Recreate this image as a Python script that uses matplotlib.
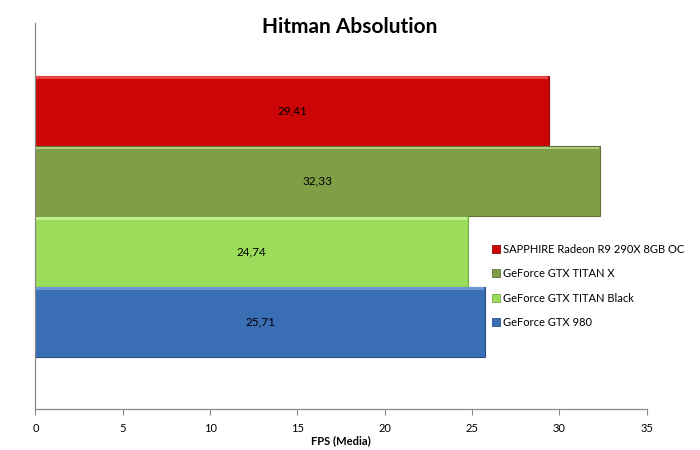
import matplotlib
matplotlib.use('Agg')
import matplotlib.pyplot as plt
from matplotlib.patches import Patch

plt.rcParams['font.family'] = ['Lato', 'DejaVu Sans']

# data, top to bottom
labels = ['SAPPHIRE Radeon R9 290X 8GB OC', 'GeForce GTX TITAN X',
          'GeForce GTX TITAN Black', 'GeForce GTX 980']
fps = [29.41, 32.33, 24.74, 25.71]
value_text = ['29,41', '32,33', '24,74', '25,71']
colors = ['#CC0606', '#809E46', '#9BDC5A', '#3A6EB5']
edge_colors = ['#8E0A0A', '#5E7533', '#74A842', '#294F84']
top_colors = ['#EC4444', '#B0CA80', '#C3EC94', '#6E98D2']
xticks = [0, 5, 10, 15, 20, 25, 30, 35]

fig = plt.figure(figsize=(7, 4.5), dpi=100)
ax = fig.add_axes([0.0507, 0.0911, 0.8733, 0.8578])

ypos = [3, 2, 1, 0]
for y, v, c, ec, tc, t in zip(ypos, fps, colors, edge_colors, top_colors, value_text):
    ax.barh(y, v, height=1.0, color=c, edgecolor=ec, linewidth=0.8, zorder=2)
    # light bevel along the top edge
    ax.barh(y + 0.475, v - 0.1, height=0.04, left=0.05, color=tc, linewidth=0, zorder=3)
    ax.text(v / 2, y, t, ha='center', va='center', fontsize=8.5, color='black', zorder=4)

ax.set_ylim(-1.245, 4.255)
ax.set_xlim(0, 35)
ax.set_xticks(xticks)
ax.set_xticklabels([str(x) for x in xticks], fontsize=8)
ax.set_yticks([])
ax.tick_params(axis='x', direction='out', length=4, color='#888888', pad=6)
ax.set_xlabel('FPS (Media)', fontsize=8, fontweight='bold', labelpad=1)
for side in ['top', 'right']:
    ax.spines[side].set_visible(False)
for side in ['left', 'bottom']:
    ax.spines[side].set_color('#888888')
    ax.spines[side].set_linewidth(0.9)

fig.text(0.5, 0.94, 'Hitman Absolution', ha='center', va='center',
         fontsize=15, fontweight='bold')

handles = [Patch(facecolor=c, edgecolor=ec, linewidth=0.6) for c, ec in zip(colors, edge_colors)]
fig.legend(handles, labels, loc='upper left', bbox_to_anchor=(0.697, 0.468),
           frameon=False, fontsize=8, handlelength=0.7, handleheight=0.7,
           handletextpad=0.3, labelspacing=1.2, borderaxespad=0)

fig.savefig('out.png', dpi=100)
